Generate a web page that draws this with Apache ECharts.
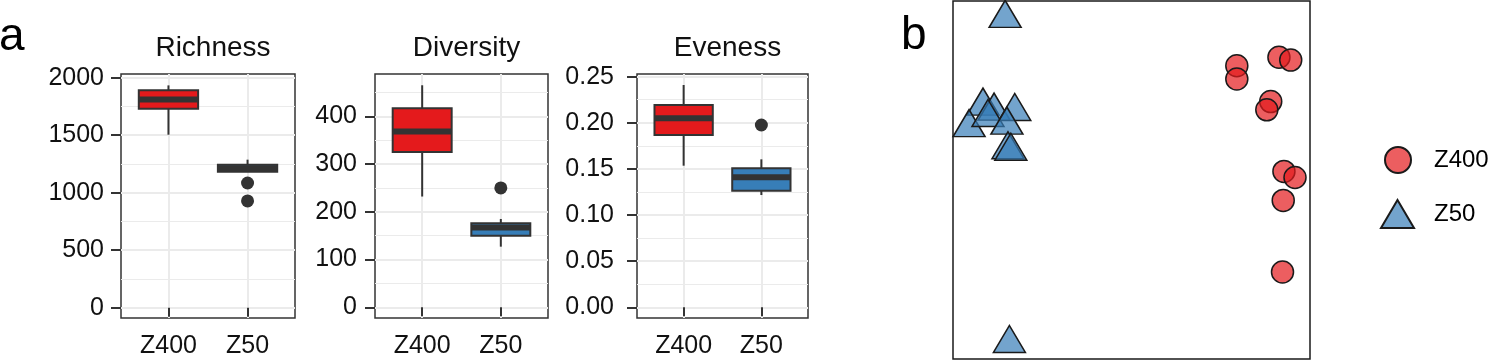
<!DOCTYPE html>
<html>
<head>
<meta charset="utf-8">
<script src="https://cdn.jsdelivr.net/npm/echarts@6/dist/echarts.min.js"></script>
<style>
  html, body { margin: 0; padding: 0; background: #fff; }
  #chart { width: 1493px; height: 361px; }
</style>
</head>
<body>
<div id="chart"></div>
<script>
const groups = ['Z400', 'Z50']
const groupColors = ['#E41A1C', '#377EB8']
const panelTitles = ['Richness', 'Diversity', 'Eveness']

// box stats per group: [low, q1, median, q3, high]
const richnessBox = [[1504, 1729, 1811, 1891, 1933], [1182, 1182, 1213, 1243, 1287]]
const diversityBox = [[232, 325, 368, 417, 465], [127, 150, 167, 176, 185]]
const evenessBox = [[0.1535, 0.1868, 0.2049, 0.2193, 0.241], [0.1217, 0.1264, 0.1409, 0.1507, 0.1604]]

// outliers: [group position, value]
const richnessOut = [[2, 1084], [2, 928]]
const diversityOut = [[2, 250]]
const evenessOut = [[2, 0.1976]]

const richnessTicks = [0, 500, 1000, 1500, 2000]
const richnessMinor = [250, 750, 1250, 1750]
const diversityTicks = [0, 100, 200, 300, 400]
const diversityMinor = [50, 150, 250, 350, 450]
const evenessTicks = [0, 0.05, 0.1, 0.15, 0.2, 0.25]
const evenessMinor = [0.025, 0.075, 0.125, 0.175, 0.225]

// ordination scores (panel b)
const z400Points = [[79.5, 81.9], [79.5, 78.2], [91.3, 84.3], [94.6, 83.5], [89.0, 71.9],
  [87.9, 69.6], [92.7, 52.4], [95.8, 50.7], [92.5, 44.3], [92.3, 24.3]]
const z50Points = [[14.6, 96.4], [15.8, 5.6], [8.4, 71.9], [11.5, 70.5], [17.3, 70.4],
  [4.5, 65.9], [9.8, 68.7], [15.1, 66.6], [15.4, 59.7], [16.2, 59.3]]

const FONT = '"Liberation Sans", Arial, sans-serif'
const GRID_LINE = '#EBEBEB'
const DARK = '#333333'
const TEXT = '#111111'

const panels = [
  { box: richnessBox, out: richnessOut, ticks: richnessTicks, minor: richnessMinor, min: -90, max: 2032, margin: 17, fmt: v => String(v) },
  { box: diversityBox, out: diversityOut, ticks: diversityTicks, minor: diversityMinor, min: -22.4, max: 488.6, margin: 18, fmt: v => String(v) },
  { box: evenessBox, out: evenessOut, ticks: evenessTicks, minor: evenessMinor, min: -0.0116, max: 0.2529, margin: 23, fmt: v => v.toFixed(2) },
]
const panelGrids = [
  { left: 121, top: 74, width: 174, height: 244 },
  { left: 375, top: 74, width: 173, height: 244 },
  { left: 637, top: 74, width: 171, height: 244 },
]

function renderBox(params, api) {
  const x = api.value(0)
  const low = api.coord([x, api.value(1)])
  const q1 = api.coord([x, api.value(2)])
  const med = api.coord([x, api.value(3)])
  const q3 = api.coord([x, api.value(4)])
  const high = api.coord([x, api.value(5)])
  const half = api.size([0.75, 0])[0] / 2
  const line = { stroke: DARK, lineWidth: 2 }
  return {
    type: 'group',
    children: [
      { type: 'line', shape: { x1: high[0], y1: high[1], x2: q3[0], y2: q3[1] }, style: line },
      { type: 'line', shape: { x1: q1[0], y1: q1[1], x2: low[0], y2: low[1] }, style: line },
      { type: 'rect', shape: { x: q3[0] - half, y: q3[1], width: half * 2, height: q1[1] - q3[1] },
        style: { fill: groupColors[params.dataIndex], stroke: DARK, lineWidth: 2 } },
      { type: 'line', shape: { x1: med[0] - half, y1: med[1], x2: med[0] + half, y2: med[1] },
        style: { stroke: DARK, lineWidth: 6 } },
    ],
  }
}

const grid = [], xAxis = [], yAxis = [], series = [], title = []

panels.forEach((p, i) => {
  grid.push({ ...panelGrids[i], show: true, borderColor: DARK, borderWidth: 1.5, backgroundColor: '#fff' })
  title.push({
    text: panelTitles[i], left: panelGrids[i].left + panelGrids[i].width / 2, top: 29, textAlign: 'center',
    textStyle: { fontFamily: FONT, fontSize: 28, fontWeight: 'normal', color: TEXT },
  })
  xAxis.push({
    type: 'value', gridIndex: i, min: 0.4, max: 2.6,
    axisLine: { show: false },
    axisTick: { show: true, length: 9, customValues: [1, 2], lineStyle: { color: DARK, width: 2 } },
    axisLabel: { customValues: [1, 2], margin: 16, formatter: v => groups[Math.round(v) - 1],
      fontFamily: FONT, fontSize: 25, color: TEXT },
    splitLine: { show: true, lineStyle: { color: GRID_LINE, width: 2 } },
  })
  // major axis
  yAxis.push({
    type: 'value', gridIndex: i, min: p.min, max: p.max,
    axisLine: { show: false },
    axisTick: { show: true, length: 10, customValues: p.ticks, lineStyle: { color: DARK, width: 2 } },
    axisLabel: { customValues: p.ticks, margin: p.margin, formatter: p.fmt, fontFamily: FONT, fontSize: 25, color: TEXT },
    splitLine: { show: true, lineStyle: { color: GRID_LINE, width: 2 } },
  })
})
// minor grid lines: invisible companion y axes
panels.forEach((p, i) => {
  yAxis.push({
    type: 'value', gridIndex: i, min: p.min, max: p.max, position: 'left',
    axisLine: { show: false },
    axisTick: { show: false, customValues: p.minor },
    axisLabel: { show: false, customValues: p.minor },
    splitLine: { show: true, lineStyle: { color: GRID_LINE, width: 1 } },
  })
})

panels.forEach((p, i) => {
  series.push({
    type: 'custom', xAxisIndex: i, yAxisIndex: i, z: 3,
    renderItem: renderBox,
    encode: { x: 0, y: [1, 2, 3, 4, 5] },
    data: p.box.map((b, g) => [g + 1, ...b]),
  })
  series.push({
    type: 'scatter', xAxisIndex: i, yAxisIndex: i, z: 4,
    symbol: 'circle', symbolSize: 13,
    itemStyle: { color: DARK, opacity: 1 },
    data: p.out,
  })
})

// panel b
grid.push({ left: 953, top: 1, width: 357, height: 358, show: true, borderColor: '#1a1a1a', borderWidth: 1.5 })
xAxis.push({ type: 'value', gridIndex: 3, min: 0, max: 100, show: false })
yAxis.push({ type: 'value', gridIndex: 3, min: 0, max: 100, show: false })
series.push({
  name: 'Z400', type: 'scatter', xAxisIndex: 3, yAxisIndex: 6,
  symbol: 'circle', symbolSize: 22,
  itemStyle: { color: 'rgba(228,26,28,0.7)', opacity: 1, borderColor: '#1a1a1a', borderWidth: 1.5 },
  data: z400Points,
})
series.push({
  name: 'Z50', type: 'scatter', xAxisIndex: 3, yAxisIndex: 6,
  symbol: 'triangle', symbolSize: [32, 27],
  itemStyle: { color: 'rgba(55,126,184,0.7)', opacity: 1, borderColor: '#1a1a1a', borderWidth: 1.5 },
  data: z50Points,
})

title.push({ text: 'a', left: -6, top: 9, textStyle: { fontFamily: FONT, fontSize: 46, fontWeight: 'normal', color: '#000' } })
title.push({ text: 'b', left: 896, top: 8, textStyle: { fontFamily: FONT, fontSize: 46, fontWeight: 'normal', color: '#000' } })

const legendText = { fontFamily: FONT, fontSize: 24, color: '#000' }
const legend = [
  { data: ['Z400'], left: 1384, top: 146, padding: 0, itemWidth: 26, itemHeight: 26,
    textStyle: { ...legendText, padding: [0, 0, 0, 18] } },
  { data: ['Z50'], left: 1380, top: 199, padding: 0, itemWidth: 33, itemHeight: 28,
    textStyle: { ...legendText, padding: [0, 0, 0, 15] } },
]

const chart = echarts.init(document.getElementById('chart'))
chart.setOption({ animation: false, backgroundColor: '#fff', title, grid, xAxis, yAxis, legend, series })
window.addEventListener('resize', () => chart.resize())
</script>
</body>
</html>
